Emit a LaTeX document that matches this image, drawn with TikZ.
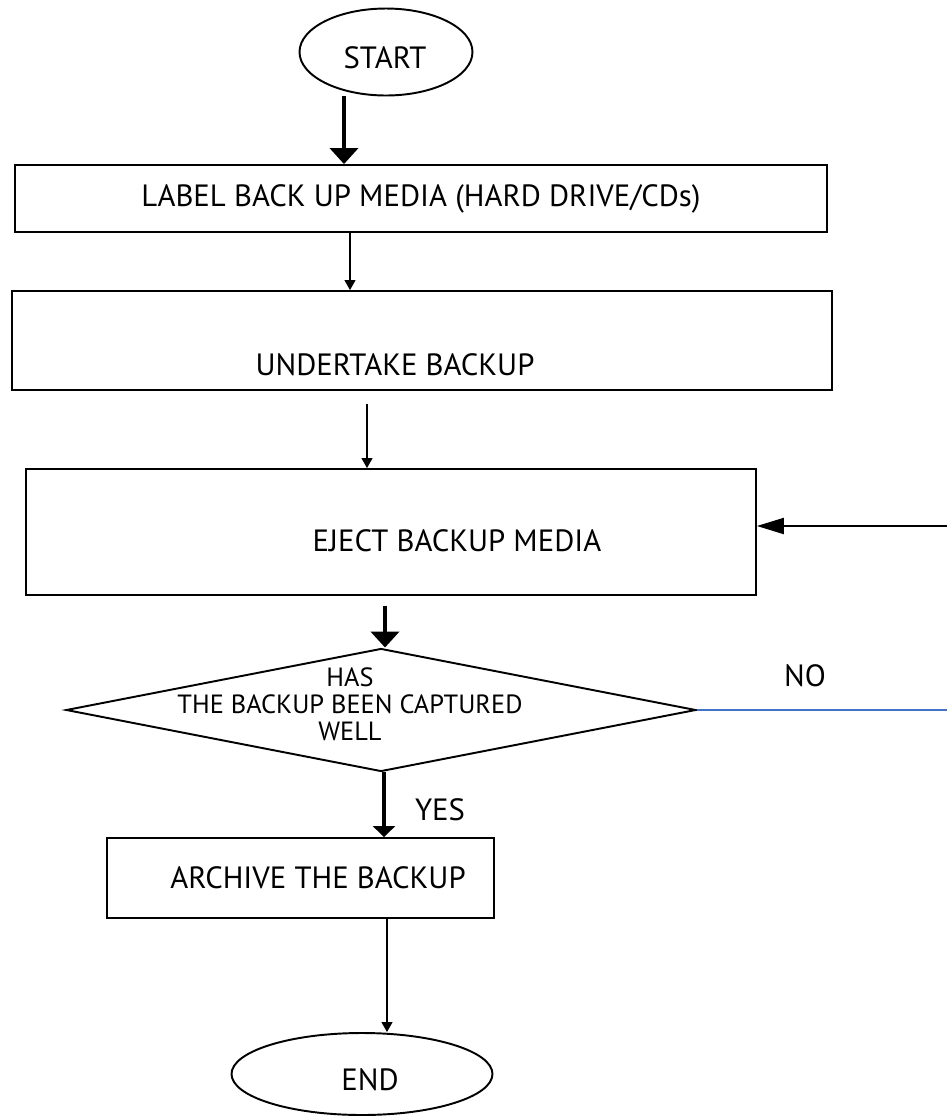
\documentclass[tikz,border=0pt]{standalone}
\usepackage{fontspec}
\setmainfont{PT Sans}
\usetikzlibrary{calc}
\usetikzlibrary{positioning}
\usetikzlibrary{shapes.geometric}
\usetikzlibrary{arrows.meta}
\definecolor{noblue}{HTML}{4472C4}

\tikzset{
  proc/.style={draw, rectangle, line width=1.1pt, inner sep=0pt},
  term/.style={draw, ellipse, line width=1.1pt, inner sep=0pt},
  decision/.style={draw, diamond, line width=1.1pt, inner sep=0pt},
  thin arrow/.style={line width=0.6pt, -{Triangle[width=0.22cm,length=0.2cm]}},
  thick arrow/.style={line width=2.3pt, -{Triangle[width=0.56cm,length=0.32cm]}},
  back arrow/.style={line width=1.2pt, -{Triangle[width=0.32cm,length=0.54cm]}},
}

\begin{document}
\begin{tikzpicture}[x=0.02cm, y=-0.02cm, font=\fontsize{17.5}{20}\selectfont]
            \useasboundingbox (0,0) rectangle (947,1117);

            % Shapes
            \node[term, minimum width=3.46cm, minimum height=1.74cm] (start) at (386,52) {};
            \node (starttext) at (385,58) {START};
            \node[proc, minimum width=16.24cm, minimum height=1.34cm] (label) at (421,198.5) {LABEL BACK UP MEDIA (HARD DRIVE/CDs)};
            \node[proc, minimum width=16.4cm, minimum height=1.98cm] (backup) at (422,340.5) {};
            \node (backuptext) at (395,365) {UNDERTAKE BACKUP};
            \node[proc, minimum width=14.6cm, minimum height=2.52cm] (eject) at (391,532) {};
            \node (ejecttext) at (457,541) {EJECT BACKUP MEDIA};
            \node[decision, minimum width=12.6cm, minimum height=2.46cm] (check) at (381,710) {};
            \node[align=center, inner sep=0pt, font=\fontsize{15}{15.3}\selectfont] (checktext) at (350,704) {HAS\\THE BACKUP BEEN CAPTURED\\WELL};
            \node[proc, minimum width=7.74cm, minimum height=1.6cm] (archive) at (300.5,878) {};
            \node (archivetext) at (318,878) {ARCHIVE THE BACKUP};
            \node[term, minimum width=5.22cm, minimum height=1.64cm] (end) at (362,1074) {};
            \node (endtext) at (370,1080) {END};

            % Labels
            \node (no) at (805,676) {NO};
            \node (yes) at (440,810) {YES};

            % Arrows
            \draw[thick arrow] (344,0 |- start.south) -- (344,0 |- label.north);
            \draw[thin arrow] (350,0 |- label.south) -- (350,0 |- backup.north);
            \draw[thin arrow] ($(367,0 |- backup.south)+(0,13)$) -- (367,0 |- eject.north);
            \draw[thick arrow] ($(385,0 |- eject.south)+(0,10)$) -- (385,0 |- check.north);
            \draw[line width=2pt, -{Triangle[width=0.44cm,length=0.22cm]}] (384,0 |- check.south) -- (384,0 |- archive.north);
            \draw[thin arrow] (387,0 |- archive.south) -- (387,0 |- end.north);

            % NO loop
            \coordinate (noend) at (947,710);
            \coordinate (backin) at (947,526);
            \draw[noblue, line width=0.9pt] (check.east) -- (noend);
            \draw[back arrow] (backin) -- (backin -| eject.east);
        \end{tikzpicture}
\end{document}
